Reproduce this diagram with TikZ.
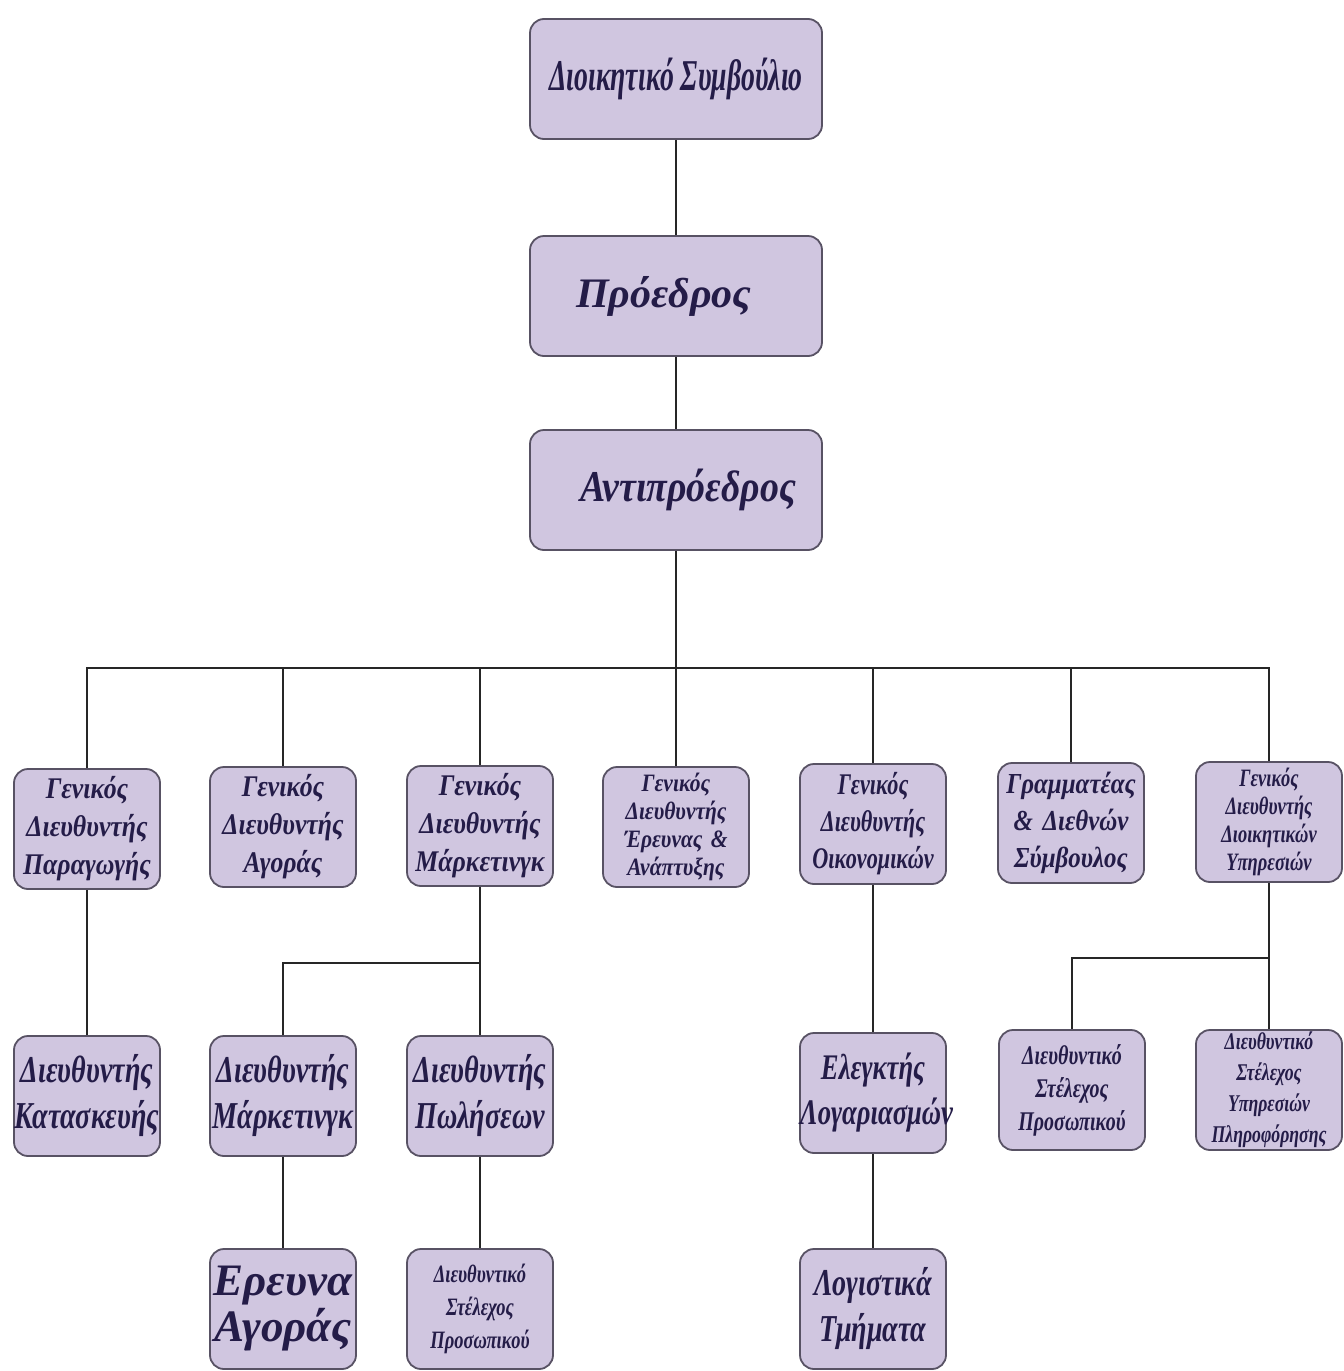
\documentclass[tikz,border=0pt]{standalone}
\usepackage{fontspec}
\setmainfont{Liberation Serif}
% bold italic faces at several horizontal widths
\newfontfamily\bifont{Liberation Serif Bold Italic}
\newfontfamily\bicondx[FakeStretch=0.63]{Liberation Serif Bold Italic}
\newfontfamily\bicond[FakeStretch=0.74]{Liberation Serif Bold Italic}
\newfontfamily\binarrow[FakeStretch=0.86]{Liberation Serif Bold Italic}
\definecolor{boxfill}{RGB}{208,198,224}
\definecolor{boxline}{RGB}{88,82,100}
\definecolor{ink}{RGB}{36,28,72}
\begin{document}
\begin{tikzpicture}[x=0.5pt,y=-0.5pt,
  orgbox/.style={draw=boxline, line width=0.9pt, fill=boxfill, rounded corners=7pt,
    inner sep=0pt, align=center, text=ink},
  bigbox/.style={orgbox, minimum width=146pt, minimum height=60pt},
  unitbox/.style={orgbox, text width=73pt, minimum width=73pt, minimum height=60pt},
  link/.style={draw=black!85, line width=0.85pt}]
\useasboundingbox (0,0) rectangle (1344,1371);

% top of the hierarchy
\node[bigbox, font=\bicondx\fontsize{22}{24}\selectfont] (board) at (676,79) {Διοικητικό Συμβούλιο};
\node[bigbox, font=\bifont\fontsize{21}{26}\selectfont] (pres) at (676,296) {Πρόεδρος\hspace*{12pt}};
\node[bigbox, font=\binarrow\fontsize{22}{26}\selectfont] (vice) at (676,490) {\hspace*{12pt}Αντιπρόεδρος};

% general managers
\node[unitbox, font=\binarrow\fontsize{15}{19}\selectfont] (g1) at (87,829) {Γενικός\\Διευθυντής\\Παραγωγής};
\node[unitbox, font=\binarrow\fontsize{15}{19}\selectfont] (g2) at (283,827) {Γενικός\\Διευθυντής\\Αγοράς};
\node[unitbox, font=\binarrow\fontsize{15}{19}\selectfont] (g3) at (480,826) {Γενικός\\Διευθυντής\\Μάρκετινγκ};
\node[unitbox, font=\binarrow\fontsize{12.5}{14}\selectfont] (g4) at (676,827) {Γενικός\\Διευθυντής\\Έρευνας \&\\Ανάπτυξης};
\node[unitbox, font=\bicond\fontsize{15}{18.5}\selectfont] (g5) at (873,824) {Γενικός\\Διευθυντής\\Οικονομικών};
\node[unitbox, font=\binarrow\fontsize{14.5}{18.5}\selectfont] (g6) at (1071,823) {Γραμματέας\\\& Διεθνών\\Σύμβουλος};
\node[unitbox, font=\bicond\fontsize{12.5}{14}\selectfont] (g7) at (1269,822) {Γενικός\\Διευθυντής\\Διοικητικών\\Υπηρεσιών};

% third level
\node[unitbox, font=\bicond\fontsize{19}{23}\selectfont] (k1) at (87,1096) {Διευθυντής\\Κατασκευής};
\node[unitbox, font=\bicond\fontsize{19}{23}\selectfont] (m1) at (283,1096) {Διευθυντής\\Μάρκετινγκ};
\node[unitbox, font=\bicond\fontsize{19}{23}\selectfont] (m2) at (480,1096) {Διευθυντής\\Πωλήσεων};
\node[unitbox, font=\bicond\fontsize{18}{22.5}\selectfont] (e1) at (873,1093) {Ελεγκτής\\Λογαριασμών};
\node[unitbox, font=\bicond\fontsize{13.5}{16.5}\selectfont] (a1) at (1072,1090) {Διευθυντικό\\Στέλεχος\\Προσωπικού};
\node[unitbox, font=\bicond\fontsize{12}{15.5}\selectfont] (a2) at (1269,1090) {Διευθυντικό\\Στέλεχος\\Υπηρεσιών\\Πληροφόρησης};

% fourth level
\node[unitbox, font=\bifont\fontsize{22.5}{23}\selectfont] (r1) at (283,1309) {Ερευνα\\Αγοράς};
\node[unitbox, font=\bicond\fontsize{12.5}{16.5}\selectfont] (r2) at (480,1309) {Διευθυντικό\\Στέλεχος\\Προσωπικού};
\node[unitbox, font=\bicond\fontsize{19}{23}\selectfont] (l1) at (873,1309) {Λογιστικά\\Τμήματα};

% connectors
\coordinate (busY) at (0,668);
\coordinate (mktY) at (0,963);
\coordinate (admY) at (0,958);

\draw[link] (board) -- (pres);
\draw[link] (pres) -- (vice);
\draw[link] (vice.south) -- (vice.south |- busY);
\draw[link] (g1.north) -- (g1.north |- busY) -| (g7.north);
\foreach \g in {g2,g3,g4,g5,g6}
  \draw[link] (\g.north) -- (\g.north |- busY);

\draw[link] (g1) -- (k1);
\draw[link] (g3.south) -- (g3.south |- mktY) -| (m1.north);
\draw[link] (g3.south |- mktY) -- (m2.north);
\draw[link] (m1) -- (r1);
\draw[link] (m2) -- (r2);
\draw[link] (g5) -- (e1);
\draw[link] (e1) -- (l1);
\draw[link] (g7.south) -- (g7.south |- admY) -| (a1.north);
\draw[link] (g7.south |- admY) -- (a2.north);
\end{tikzpicture}
\end{document}
